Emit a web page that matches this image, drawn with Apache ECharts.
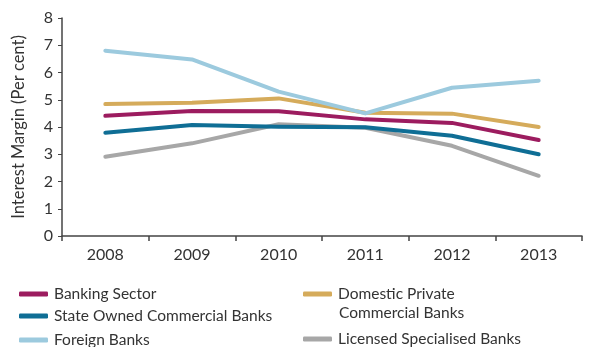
<!DOCTYPE html>
<html>
<head>
<meta charset="utf-8">
<script src="https://cdn.jsdelivr.net/npm/echarts@6/dist/echarts.min.js"></script>
<style>
  html, body { margin: 0; padding: 0; background: #fff; }
  #chart { width: 592px; height: 347px; }
</style>
</head>
<body>
<div id="chart"></div>
<script>
// Interest margin by bank group, 2008-2013 (per cent)
const years = ['2008', '2009', '2010', '2011', '2012', '2013'];
const bankingSector = [4.41, 4.59, 4.58, 4.28, 4.15, 3.52];
const stateOwned = [3.79, 4.07, 4.01, 3.99, 3.68, 3.0];
const foreignBanks = [6.8, 6.48, 5.3, 4.5, 5.44, 5.7];
const domesticPrivate = [4.84, 4.89, 5.05, 4.52, 4.49, 4.0];
const licensedSpecialised = [2.91, 3.4, 4.1, 3.97, 3.31, 2.21];
const yTicks = [0, 1, 2, 3, 4, 5, 6, 7, 8];

const FONT = 'Lato';
const TEXT = '#333';

const chart = echarts.init(document.getElementById('chart'));

function line(name, data, color, z) {
  return {
    name, type: 'line', data, z,
    symbol: 'none',
    lineStyle: { color, width: 4, cap: 'round', join: 'round' },
    itemStyle: { color }
  };
}

// one legend entry per block so each row sits at its own height
function legendItem(name, left, top, formatter) {
  const item = {
    orient: 'vertical',
    left, top,
    data: [name],
    icon: 'roundRect',
    itemWidth: 29,
    itemHeight: 5,
    padding: 0,
    selectedMode: false,
    textStyle: { fontFamily: FONT, fontSize: 15.5, color: TEXT, padding: [0, 0, 0, 1] }
  };
  if (formatter) item.formatter = formatter;
  return item;
}

chart.setOption({
  animation: false,
  grid: { left: 62, right: 10, top: 18, bottom: 111 },
  xAxis: {
    type: 'category',
    data: years,
    boundaryGap: true,
    axisLine: { lineStyle: { color: '#444', width: 1.5 } },
    axisTick: { show: true, length: 5, lineStyle: { color: '#444', width: 1.5 } },
    axisLabel: { fontFamily: FONT, fontSize: 16, color: TEXT, margin: 11 }
  },
  yAxis: {
    type: 'value',
    min: yTicks[0],
    max: yTicks[yTicks.length - 1],
    interval: 1,
    name: 'Interest Margin (Per cent)',
    nameLocation: 'middle',
    nameGap: 35,
    nameTextStyle: { fontFamily: FONT, fontSize: 16.5, color: TEXT },
    axisLine: { show: true, lineStyle: { color: '#444', width: 1.5 } },
    axisTick: { show: true, length: 4, lineStyle: { color: '#444', width: 1 } },
    splitLine: { show: false },
    axisLabel: { fontFamily: FONT, fontSize: 16, color: TEXT, margin: 9 }
  },
  legend: [
    legendItem('Banking Sector', 19, 286),
    legendItem('State Owned Commercial Banks', 19, 308),
    legendItem('Foreign Banks', 19, 332),
    legendItem('Domestic Private Commercial Banks', 303, 286, () => 'Domestic Private'),
    legendItem('Licensed Specialised Banks', 303, 331)
  ],
  graphic: [{
    type: 'text',
    left: 339, top: 305,
    style: { text: 'Commercial Banks', font: '15.5px ' + FONT, fill: TEXT }
  }],
  series: [
    line('Licensed Specialised Banks', licensedSpecialised, '#a7a7a7', 2),
    line('Domestic Private Commercial Banks', domesticPrivate, '#d5ab5b', 3),
    line('Foreign Banks', foreignBanks, '#9ccade', 4),
    line('Banking Sector', bankingSector, '#9c1c5f', 5),
    line('State Owned Commercial Banks', stateOwned, '#0f6e95', 6)
  ]
});
</script>
</body>
</html>
